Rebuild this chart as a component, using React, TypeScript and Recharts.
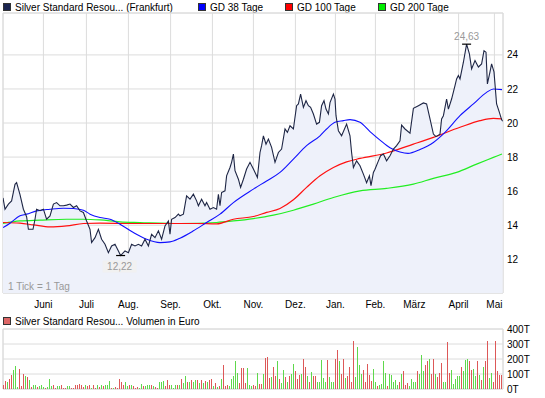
import React from 'react';
import {
  ComposedChart, Area, Line, Bar, XAxis, YAxis, CartesianGrid,
  ReferenceArea, ReferenceDot,
} from 'recharts';

const FONT = "'Liberation Sans', Arial, Helvetica, sans-serif";

// x unit = trading day index (0..250)
const monthTicks = [20.2, 41.7, 62.7, 83.8, 104.7, 125.2, 146.2, 166.2, 186.2, 205.7, 227.8, 245.7];
const monthLabels = ['Juni', 'Juli', 'Aug.', 'Sep.', 'Okt.', 'Nov.', 'Dez.', 'Jan.', 'Feb.', 'März', 'April', 'Mai'];

const priceTicks = [12, 14, 16, 18, 20, 22, 24];
const priceDomain = [10.02, 26.46];
const volTicks = [0, 100, 200, 300, 400];

const priceDays = [0, 1, 2.7, 4.3, 6, 6.8, 8.5, 10.2, 11.8, 12.7, 15, 16, 16.8, 18.5, 20.2, 21.8, 23.5, 25.2, 26.8, 28.5, 30.2, 31.8, 33.5, 35.2, 36.8, 38.5, 40.2, 41.8, 43.5, 44.3, 46, 47.7, 49.3, 51, 52.7, 54.3, 56, 57.7, 58.8, 61, 62.7, 64.3, 66, 67.7, 69.3, 71, 72.7, 74.3, 76, 77.7, 79.3, 81, 82.7, 83.5, 84.3, 86, 87.7, 88.5, 90.2, 91.8, 93.5, 95.2, 96.8, 97.7, 99.3, 101, 101.8, 103.5, 105.2, 106.8, 107.7, 108.5, 109.3, 111, 111.8, 113.5, 114.3, 115.2, 116, 117.7, 118.8, 120.2, 121.8, 123.5, 125.2, 127.2, 128.5, 129.3, 130.2, 131.5, 132.7, 134.3, 136, 137.7, 139.3, 141, 142.2, 143.5, 145.2, 146.8, 147.7, 148.8, 150.2, 151.5, 152.7, 153.8, 155.2, 156.8, 158.2, 159.3, 160.5, 161.5, 162.7, 163.5, 165.2, 166, 166.5, 167.7, 169.3, 171.8, 173.5, 174.3, 175.2, 176.8, 178.5, 180.2, 181.8, 183.2, 184, 185.2, 186, 187.7, 188.8, 190.2, 191.8, 193.5, 195.2, 196.8, 198.5, 199.3, 201, 203.5, 205.2, 207.7, 210.2, 211.8, 213.5, 215.2, 216.5, 218.5, 219.3, 220.2, 221.8, 222.7, 224.3, 226, 226.8, 227.7, 228.5, 230.2, 231.8, 233.2, 234.3, 236, 237.7, 239.3, 240.5, 241.5, 242.2, 243.5, 244.3, 245.5, 246.8, 248.2, 249.3, 249.8];
const priceValues = [15.6, 14.94, 15.24, 15.43, 16.4, 16.5, 15.8, 14.94, 14.5, 13.76, 13.76, 14.35, 14.94, 14.85, 14.94, 14.35, 14.55, 15.24, 15.33, 15.14, 15.14, 15.18, 15.24, 15.04, 15.14, 14.84, 14.75, 14.25, 13.76, 12.98, 13.27, 13.76, 13.18, 12.88, 12.39, 12.78, 12.88, 12.49, 12.22, 12.49, 12.39, 12.88, 12.78, 12.88, 12.78, 13.18, 12.78, 13.47, 13.27, 13.67, 13.18, 13.96, 14.25, 13.47, 14.35, 14.45, 14.65, 14.55, 14.65, 15.72, 15.53, 15.82, 15.43, 15.14, 15.53, 15.14, 15.33, 14.94, 15.04, 14.94, 15.82, 15.14, 15.92, 16.02, 16.9, 17.39, 17.69, 18.18, 17.2, 16.7, 16.22, 16.7, 17.3, 17.69, 17.3, 16.8, 18.27, 18.67, 19.25, 18.76, 19.06, 18.57, 17.69, 18.27, 18.47, 19.65, 19.45, 19.84, 19.65, 21.02, 21.12, 21.7, 20.92, 21.31, 21.02, 20.92, 20.53, 19.94, 20.04, 21.02, 21.31, 20.82, 20.53, 21.2, 21.7, 21.41, 20.43, 19.55, 19.25, 19.94, 19.25, 18.27, 17.39, 17.78, 17.49, 17.0, 16.5, 16.9, 16.32, 17.1, 17.29, 17.78, 18.08, 18.18, 17.78, 18.08, 18.47, 18.67, 18.96, 19.88, 19.65, 19.4, 20.86, 21.02, 21.18, 21.12, 20.24, 19.35, 19.2, 19.35, 20.24, 20.43, 21.41, 20.82, 21.41, 22.2, 22.59, 22.79, 22.59, 23.57, 24.63, 24.06, 23.18, 23.67, 23.29, 23.47, 24.25, 24.16, 22.3, 23.0, 23.47, 23.0, 21.12, 20.63, 20.2, 20.1];

const gd38Days = [0, 3.5, 8.5, 11.8, 16.8, 23.5, 30.2, 35.2, 40.2, 43.5, 48.5, 53.5, 58.5, 65.2, 71.8, 78.5, 83.5, 88.5, 95.2, 101.8, 108.5, 115.2, 125.2, 131.8, 138.5, 145.2, 151.8, 158.5, 161.8, 166, 170.2, 173.5, 178.5, 183.5, 188.5, 193.5, 198.5, 202.5, 208.5, 215.2, 221, 228.5, 235.2, 241.8, 245.2, 249.5];
const gd38Values = [13.86, 14.12, 14.55, 14.65, 14.84, 14.94, 15.0, 14.98, 14.88, 14.65, 14.45, 14.35, 14.06, 13.57, 13.18, 12.98, 13.02, 13.24, 13.67, 14.16, 14.65, 15.33, 16.12, 16.6, 17.1, 17.88, 18.67, 19.25, 19.65, 20.04, 20.14, 20.2, 20.04, 19.5, 19.0, 18.55, 18.3, 18.22, 18.45, 18.86, 19.45, 20.43, 21.12, 21.8, 22.0, 21.96];

const gd100Days = [0, 8.5, 15.2, 23.5, 31.8, 40.2, 48.5, 65.2, 81.8, 88.5, 96.8, 106.8, 115.2, 125.2, 131.8, 138.5, 145.2, 151.8, 158.5, 165.2, 171.8, 178.5, 191.8, 205.2, 215.2, 228.5, 238.5, 245.2, 249.5];
const gd100Values = [14.16, 14.12, 14.02, 13.9, 13.96, 14.1, 14.12, 14.1, 14.1, 14.1, 14.1, 14.08, 14.35, 14.51, 14.75, 14.98, 15.49, 16.22, 16.9, 17.39, 17.72, 17.92, 18.24, 18.76, 19.16, 19.75, 20.14, 20.27, 20.24];

const gd200Days = [0, 8.5, 18.5, 31.8, 40.2, 48.5, 58.5, 68.5, 88.5, 106.8, 115.2, 125.2, 135.2, 145.2, 155.2, 165.2, 178.5, 191.8, 205.2, 215.2, 226.8, 236.8, 245.2, 249.5];
const gd200Values = [14.1, 14.25, 14.3, 14.35, 14.35, 14.31, 14.2, 14.16, 14.1, 14.16, 14.25, 14.39, 14.59, 14.88, 15.24, 15.63, 16.02, 16.16, 16.41, 16.75, 17.1, 17.59, 17.98, 18.18];

// volume in thousand euro, one bar per trading day
const volumes = [
  25, 55, 50, 65, 95, 130, 155, 15, 135, 20,
  100, 85, 80, 60, 15, 25, 30, 15, 20, 30,
  15, 10, 15, 70, 20, 25, 10, 20, 20, 25,
  10, 10, 20, 20, 10, 10, 25, 30, 35, 25,
  15, 30, 20, 25, 10, 25, 10, 25, 15, 25,
  20, 25, 30, 55, 5, 10, 15, 10, 70, 50,
  25, 50, 20, 25, 30, 20, 10, 15, 5, 35,
  20, 20, 25, 25, 25, 20, 15, 10, 50, 50,
  55, 20, 60, 25, 25, 10, 25, 25, 30, 70,
  40, 90, 50, 45, 60, 50, 60, 60, 40, 60,
  40, 55, 45, 60, 65, 20, 40, 15, 20, 70,
  160, 20, 30, 20, 70, 85, 185, 110, 40, 140,
  140, 40, 140, 25, 20, 25, 20, 105, 35, 35,
  100, 210, 215, 75, 78, 145, 85, 190, 70, 40,
  130, 78, 50, 90, 100, 170, 118, 70, 95, 100,
  200, 145, 90, 50, 115, 90, 90, 50, 50, 195,
  75, 50, 195, 78, 50, 45, 200, 262, 185, 100,
  200, 75, 90, 145, 50, 322, 80, 278, 162, 100,
  124, 45, 170, 95, 55, 131, 45, 20, 30, 35,
  190, 105, 20, 100, 95, 50, 60, 30, 50, 100,
  122, 30, 40, 20, 70, 50, 45, 122, 100, 230,
  120, 158, 190, 200, 100, 200, 100, 80, 110, 173,
  50, 45, 311, 110, 130, 35, 70, 90, 90, 150,
  118, 195, 200, 190, 125, 135, 85, 185, 95, 60,
  145, 185, 322, 75, 110, 50, 322, 118, 95, 95,
];
const volDirections =
  'rrgrrgggrr' + 'rgrgrggrgg' + 'grgggrrggr' + 'rrggrrrrrr' + 'rgrrgrrgrg' +
  'rgggrgrrrr' + 'rggrgrrrgg' + 'rgggrgrrgg' + 'grrrgggrgr' + 'ggrgrggrgr' +
  'grgrrgrgrg' + 'rrrgggggrr' + 'rrgggrrgrr' + 'grrrgrrgrg' + 'grgrggrrrg' +
  'rrgrgrrggg' + 'ggrgggrrgr' + 'rgrrrrgggg' + 'rrrrrggrgg' + 'ggrgggggrg' +
  'rrrggggrgg' + 'grrgrrgrrr' + 'ggrrgggggr' + 'gggrrggrgr' + 'grrggrrrrr';

const maxPoint = { x: 231.8, v: 24.63, label: '24,63' };
const minPoint = { x: 58.8, v: 12.22, label: '12,22' };

const legendItems = [
  { name: 'Silver Standard Resou... (Frankfurt)', color: '#1b2550', left: 3 },
  { name: 'GD 38 Tage', color: '#0000ff', left: 198 },
  { name: 'GD 100 Tage', color: '#ff0000', left: 285 },
  { name: 'GD 200 Tage', color: '#00ee00', left: 378 },
];

const C_PRICE = '#1e2645';
const C_FILL = '#eef1fa';
const C_GRID = '#dcdcdc';
const C_RED_BAR = '#dd5858';
const C_GREEN_BAR = '#5fd84c';

const toSeries = (days: number[], vals: number[]) => days.map((x, i) => ({ x, v: vals[i] }));

const MaxMark = (p: any) => {
  const { cx, cy } = p;
  if (cx == null || cy == null) return null;
  return (
    <g>
      <line x1={cx - 4.5} x2={cx + 4.5} y1={cy} y2={cy} stroke="#000" strokeWidth={1.2} />
      <text x={cx} y={cy - 8} textAnchor="middle" dominantBaseline="central" fill="#999" fontSize={10} fontFamily={FONT}>
        {maxPoint.label}
      </text>
    </g>
  );
};

const MinMark = (p: any) => {
  const { cx, cy } = p;
  if (cx == null || cy == null) return null;
  return (
    <g>
      <line x1={cx - 4.5} x2={cx + 4.5} y1={cy} y2={cy} stroke="#000" strokeWidth={1.2} />
      <rect x={cx - 18} y={cy + 5} width={34} height={12} fill="#f1f1f1" />
      <text x={cx - 1} y={cy + 11} textAnchor="middle" dominantBaseline="central" fill="#999" fontSize={10} fontFamily={FONT}>
        {minPoint.label}
      </text>
    </g>
  );
};

export default function App() {
  const priceData = toSeries(priceDays, priceValues);
  const gd38Data = toSeries(gd38Days, gd38Values);
  const gd100Data = toSeries(gd100Days, gd100Values);
  const gd200Data = toSeries(gd200Days, gd200Values);
  const volData = volumes.map((v, i) => ({
    x: i + 0.25,
    down: volDirections[i] === 'r' ? v : 0,
    up: volDirections[i] === 'r' ? 0 : v,
  }));

  const tickStyle = { fill: '#000', fontSize: 10, fontFamily: FONT };

  return (
    <div style={{ position: 'absolute', left: 0, top: 0, width: 545, height: 398, background: '#fff', fontFamily: FONT, overflow: 'hidden' }}>
      {legendItems.map((it) => (
        <div key={it.name} style={{ position: 'absolute', left: it.left, top: 1, height: 12, display: 'flex', alignItems: 'center', fontSize: 10, color: '#000', whiteSpace: 'nowrap' }}>
          <span style={{ display: 'inline-block', width: 6, height: 6, background: it.color, border: '1px solid #333', marginRight: 4 }} />
          <span>{it.name}</span>
        </div>
      ))}

      <div style={{ position: 'absolute', left: 0, top: 0 }}>
        <ComposedChart width={545} height={313} margin={{ top: 13, right: 0, bottom: 0, left: 3 }}>
          <CartesianGrid stroke={C_GRID} />
          <XAxis
            type="number" dataKey="x" domain={[0, 250]} ticks={monthTicks} interval={0}
            tickFormatter={(v: number) => monthLabels[monthTicks.indexOf(v)]}
            tickLine={false} axisLine={false} tickSize={8} tickMargin={0} height={20}
            tick={tickStyle} allowDataOverflow
          />
          <YAxis
            orientation="right" type="number" domain={priceDomain} ticks={priceTicks} interval={0}
            width={42} tickLine={false} axisLine={false} tickSize={4} tickMargin={0}
            tick={tickStyle} allowDataOverflow
          />
          <ReferenceArea x1={0} x2={250} y1={priceDomain[0]} y2={priceDomain[1]} stroke={C_GRID} fill="none" ifOverflow="visible" />
          <Area data={priceData} dataKey="v" type="linear" stroke="none" fill={C_FILL} fillOpacity={1} baseValue="dataMin" isAnimationActive={false} dot={false} activeDot={false} />
          <Line data={gd200Data} dataKey="v" type="monotone" stroke="#22ee22" strokeWidth={1.2} dot={false} activeDot={false} isAnimationActive={false} />
          <Line data={gd100Data} dataKey="v" type="monotone" stroke="#ff1010" strokeWidth={1.2} dot={false} activeDot={false} isAnimationActive={false} />
          <Line data={gd38Data} dataKey="v" type="monotone" stroke="#1010ff" strokeWidth={1.1} dot={false} activeDot={false} isAnimationActive={false} />
          <Line data={priceData} dataKey="v" type="linear" stroke={C_PRICE} strokeWidth={1.1} dot={false} activeDot={false} isAnimationActive={false} />
          <ReferenceDot x={maxPoint.x} y={maxPoint.v} r={0} shape={MaxMark} ifOverflow="visible" />
          <ReferenceDot x={minPoint.x} y={minPoint.v} r={0} shape={MinMark} ifOverflow="visible" />
        </ComposedChart>
      </div>

      <div style={{ position: 'absolute', left: 8, top: 281, fontSize: 10, color: '#999', whiteSpace: 'nowrap' }}>1 Tick = 1 Tag</div>

      <div style={{ position: 'absolute', left: 3, top: 315, height: 12, display: 'flex', alignItems: 'center', fontSize: 10, color: '#000', whiteSpace: 'nowrap' }}>
        <span style={{ display: 'inline-block', width: 6, height: 6, background: '#dd6666', border: '1px solid #333', marginRight: 4 }} />
        <span>Silver Standard Resou... Volumen in Euro</span>
      </div>

      <div style={{ position: 'absolute', left: 0, top: 313 }}>
        <ComposedChart width={545} height={85} data={volData} margin={{ top: 16, right: 0, bottom: 9, left: 3 }} barGap={0}>
          <CartesianGrid stroke={C_GRID} />
          <XAxis type="number" dataKey="x" domain={[0, 250]} ticks={monthTicks} interval={0} height={0} tick={false} tickLine={false} axisLine={false} allowDataOverflow />
          <YAxis
            orientation="right" type="number" domain={[0, 400]} ticks={volTicks} interval={0}
            tickFormatter={(v: number) => `${v}T`}
            width={42} tickLine={false} axisLine={false} tickSize={4} tickMargin={0} tick={tickStyle}
          />
          <ReferenceArea x1={0} x2={250} y1={0} y2={400} stroke={C_GRID} fill="none" ifOverflow="visible" />
          <Bar dataKey="down" stackId="vol" barSize={1} fill={C_RED_BAR} stroke="none" shapeRendering="crispEdges" isAnimationActive={false} />
          <Bar dataKey="up" stackId="vol" barSize={1} fill={C_GREEN_BAR} stroke="none" shapeRendering="crispEdges" isAnimationActive={false} />
        </ComposedChart>
      </div>
    </div>
  );
}
